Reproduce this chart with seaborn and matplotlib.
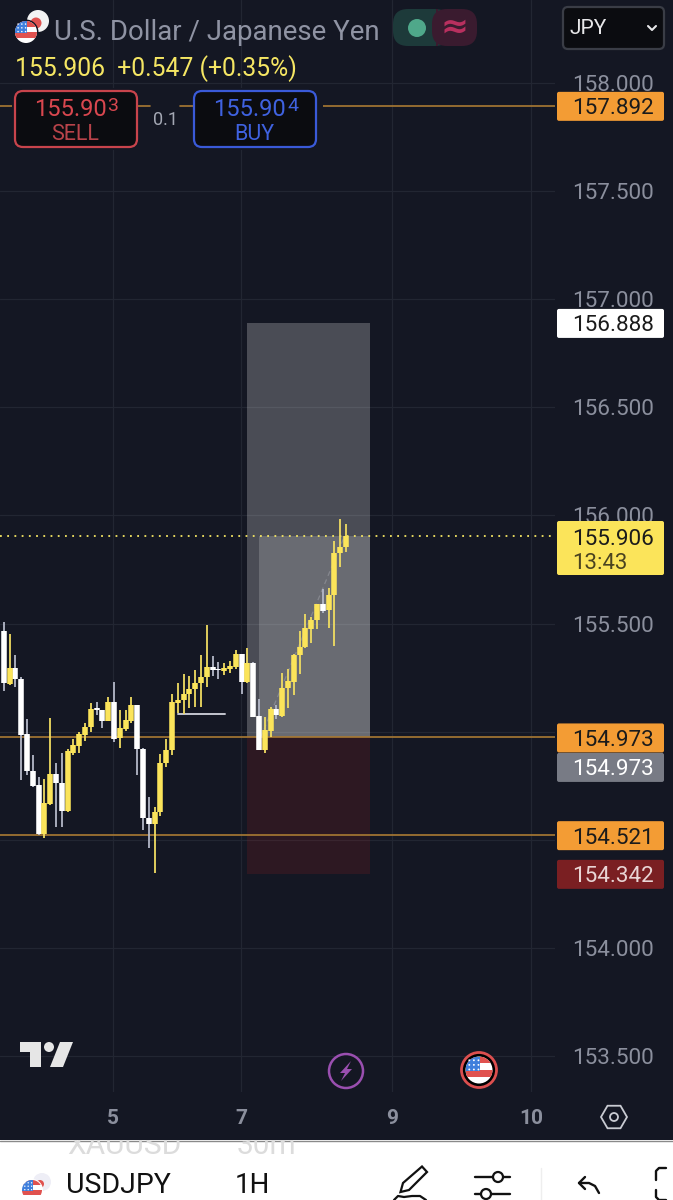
import matplotlib
matplotlib.use("Agg")
import matplotlib.pyplot as plt
import numpy as np
import pandas as pd
import seaborn as sns
from matplotlib.patches import Circle, FancyBboxPatch, Polygon, Rectangle, RegularPolygon

# hourly candles
opens = [155.466, 155.219, 155.296, 155.244, 154.988, 154.820, 154.752, 154.525, 154.665, 154.804,
         154.761, 154.632, 154.903, 154.935, 154.985, 155.020, 155.108, 155.099, 155.049, 155.137,
         154.971, 155.014, 155.051, 155.123, 154.920, 154.601, 154.573, 154.627, 154.857, 154.915,
         155.134, 155.146, 155.172, 155.197, 155.223, 155.253, 155.300, 155.290, 155.279, 155.288,
         155.300, 155.357, 155.229, 155.316, 155.072, 154.915, 155.004, 155.105, 155.072, 155.203,
         155.229, 155.354, 155.390, 155.476, 155.516, 155.589, 155.561, 155.630, 155.828, 155.855]
highs = [155.509, 155.452, 155.355, 155.251, 155.057, 154.892, 154.792, 154.780, 155.062, 154.854,
         154.900, 154.918, 154.965, 154.997, 155.039, 155.134, 155.139, 155.100, 155.162, 155.228,
         155.100, 155.100, 155.159, 155.125, 154.922, 154.696, 154.650, 154.895, 154.965, 155.174,
         155.223, 155.265, 155.259, 155.283, 155.354, 155.493, 155.350, 155.322, 155.319, 155.328,
         155.376, 155.359, 155.385, 155.323, 155.149, 155.069, 155.115, 155.122, 155.270, 155.291,
         155.360, 155.465, 155.544, 155.532, 155.592, 155.661, 155.666, 155.882, 155.985, 155.959]
lows = [155.190, 155.214, 155.208, 154.776, 154.800, 154.746, 154.521, 154.510, 154.661, 154.561,
        154.558, 154.630, 154.892, 154.900, 154.957, 155.000, 155.077, 155.015, 155.049, 154.954,
        154.923, 155.005, 155.042, 154.800, 154.545, 154.462, 154.345, 154.610, 154.838, 154.892,
        155.085, 155.081, 155.108, 155.115, 155.115, 155.208, 155.257, 155.242, 155.263, 155.273,
        155.291, 155.174, 155.226, 155.066, 154.913, 154.903, 154.974, 155.060, 155.069, 155.108,
        155.169, 155.265, 155.387, 155.408, 155.473, 155.547, 155.478, 155.396, 155.760, 155.832]
closes = [155.224, 155.296, 155.242, 154.986, 154.818, 154.749, 154.527, 154.669, 154.804, 154.761,
          154.632, 154.908, 154.938, 154.989, 155.020, 155.105, 155.102, 155.049, 155.137, 154.968,
          155.017, 155.054, 155.123, 154.920, 154.601, 154.573, 154.628, 154.857, 154.915, 155.137,
          155.146, 155.172, 155.197, 155.223, 155.253, 155.300, 155.285, 155.285, 155.294, 155.305,
          155.357, 155.231, 155.316, 155.069, 154.915, 155.007, 155.105, 155.075, 155.203, 155.233,
          155.356, 155.391, 155.478, 155.516, 155.590, 155.559, 155.632, 155.828, 155.855, 155.905]

price_ticks = [158.0, 157.5, 157.0, 156.5, 156.0, 155.5, 155.0, 154.5, 154.0, 153.5]
price_labels = ["158.000", "157.500", "157.000", "156.500", "156.000", "155.500", "", "", "154.000", "153.500"]
grid_prices = [158.0, 157.5, 157.0, 156.5, 156.0, 155.5, 155.0, 154.5, 154.0, 153.5]
day_ticks = [18.85, 40.9, 66.95, 90.9]
day_labels = ["5", "7", "9", "10"]

last_price = 155.906
alert_levels = [157.892, 154.973, 154.521]
target_price = 156.888
entry_price = 154.973
stop_price = 154.342
tool_start, tool_now, tool_end = 42, 44, 63.2
drawn_line = [30, 38.2, 155.081]

BG = "#141723"
UP = "#fbe45a"
DOWN = "#ffffff"
UP_WICK = "#f0dc62"
DOWN_WICK = "#b4b8c8"
ORANGE = "#f39c34"
TICK = "#8b8f9d"
GRID = "#222632"
FONT = ["Roboto", "DejaVu Sans"]

sns.set_theme(style="dark", rc={"axes.facecolor": BG, "figure.facecolor": BG})
plt.rcParams["font.family"] = FONT

# long tables for the candle wicks and bodies
rows_w = []
rows_b = []
for i in range(len(opens)):
    kind = "up" if closes[i] >= opens[i] else "down"
    rows_w += [(i, highs[i], kind), (i, lows[i], kind)]
    rows_b += [(i, opens[i], kind), (i, closes[i], kind)]
wicks = pd.DataFrame(rows_w, columns=["i", "price", "kind"])
bodies = pd.DataFrame(rows_b, columns=["i", "price", "kind"])

fig = plt.figure(figsize=(6.73, 12), dpi=100)
ax = fig.add_axes([0, (1200 - 1092) / 1200, 555 / 673, 1092 / 1200])
ax.set_xlim(-0.638, (555 - 3.7) / 5.8)
ax.set_ylim(158 - (1092 - 83) / 216.2, 158 + 83 / 216.2)

for p in grid_prices:
    ax.axhline(p, color=GRID, lw=0.9, zorder=0)
for d in day_ticks:
    ax.axvline(d, color=GRID, lw=0.9, zorder=0)

# position tool
ax.add_patch(Rectangle((tool_start, entry_price), tool_end - tool_start, target_price - entry_price,
                       facecolor="white", alpha=0.23, lw=0, zorder=1))
ax.add_patch(Rectangle((tool_now, entry_price), tool_end - tool_now, last_price - entry_price,
                       facecolor="white", alpha=0.177, lw=0, zorder=1))
ax.add_patch(Rectangle((tool_start, stop_price), tool_end - tool_start, entry_price - stop_price,
                       facecolor="#b22222", alpha=0.16, lw=0, zorder=1))
ax.plot([44.3, 58.8], [entry_price, last_price], color="#85878e", lw=0.9, ls=(0, (4, 3)), zorder=1.5)

for lvl in alert_levels:
    ax.axhline(lvl, color="#a97a33", lw=1.2, zorder=1.8)
ax.axhline(last_price, color="#f5e663", lw=1.3, ls=(0, (1, 3)), zorder=1.8)
ax.plot(drawn_line[:2], [drawn_line[2]] * 2, color="#c4c6cf", lw=1.4, zorder=1.9)

sns.lineplot(data=wicks, x="i", y="price", hue="kind", units="i", estimator=None,
             palette={"up": UP_WICK, "down": DOWN_WICK}, lw=1.3, legend=False, ax=ax,
             solid_capstyle="butt", zorder=2)
sns.lineplot(data=bodies, x="i", y="price", hue="kind", units="i", estimator=None,
             palette={"up": UP, "down": DOWN}, lw=4.0, legend=False, ax=ax,
             solid_capstyle="butt", zorder=3)

ax.set_xlabel("")
ax.set_ylabel("")
ax.yaxis.tick_right()
ax.set_yticks(price_ticks)
ax.set_yticklabels(price_labels, fontsize=16.2, color=TICK)
ax.set_xticks(day_ticks)
ax.set_xticklabels(day_labels, fontsize=15, color=TICK, fontweight="bold")
ax.tick_params(axis="y", length=0, pad=12)
ax.tick_params(axis="x", length=0, pad=12)
for s in ax.spines.values():
    s.set_visible(False)
ax.grid(False)

# overlay in picture pixels for the app chrome
ui = fig.add_axes([0, 0, 1, 1], facecolor="none")
ui.set_xlim(0, 673)
ui.set_ylim(1200, 0)
ui.axis("off")


def py(price):
    return 1200 - ax.transData.transform((0, price))[1]


def box(x0, y0, x1, y1, face, edge="none", lw=0, r=3, axes=ui, z=5):
    p = FancyBboxPatch((x0 + r, y0 + r), x1 - x0 - 2 * r, y1 - y0 - 2 * r,
                       boxstyle="round,pad=%d,rounding_size=%d" % (r, r),
                       facecolor=face, edgecolor=edge, lw=lw, zorder=z)
    axes.add_patch(p)


def badge(y, text, face, color):
    box(557, y - 14.5, 664, y + 14.5, face, r=2)
    ui.text(654, y, text, color=color, fontsize=16.2, ha="right", va="center_baseline", zorder=6)


def us_flag(a, x, y, r, z=7):
    disc = Circle((x, y), r, facecolor="white", lw=0, zorder=z)
    a.add_patch(disc)
    for k in range(4):
        if k % 2 == 0:
            s = Rectangle((x - r, y - r + k * r / 2), 2 * r, r / 2, facecolor="#e0524f", lw=0, zorder=z + 0.1)
            a.add_patch(s)
            s.set_clip_path(disc)
    c = Rectangle((x - r, y - r), r * 1.05, r * 1.05, facecolor="#3f7fdc", lw=0, zorder=z + 0.2)
    a.add_patch(c)
    c.set_clip_path(disc)
    for m in range(3):
        for n in range(3):
            a.add_patch(Circle((x - r * 0.72 + m * r * 0.34, y - r * 0.72 + n * r * 0.34), r * 0.07,
                               facecolor="white", lw=0, zorder=z + 0.3))


# header
ui.add_patch(Circle((38, 21), 11, facecolor="#f3f3f3", lw=0, zorder=5))
ui.add_patch(Circle((36, 23), 5.5, facecolor="#e0524f", lw=0, zorder=5.1))
ui.add_patch(Circle((26, 32), 12.5, facecolor=BG, lw=0, zorder=5.5))
us_flag(ui, 26, 32, 11)
ui.text(54, 29, "U.S. Dollar / Japanese Yen", color="#8f93a3", fontsize=19.9, va="center_baseline", zorder=6)
ui.text(15, 66, "155.906  +0.547 (+0.35%)", color="#f5e663", fontsize=17.8, va="center_baseline", zorder=6)

box(393, 9, 450, 46, "#1d3a3a", r=15)
box(432, 9, 477, 46, "#3a1b2f", r=15)
ui.add_patch(Rectangle((436, 9), 2, 37, facecolor="#3a1b2f", lw=0, zorder=5.1))
ui.add_patch(Circle((417, 28), 9, facecolor="#4fa88a", lw=0, zorder=6))
ui.text(455, 27, "≈", color="#b8305f", fontsize=24, fontweight="bold", ha="center", va="center",
        family=["DejaVu Sans"], zorder=6)

box(563, 7, 664, 49, "#0b0c10", edge="#3a3d46", lw=1.6, r=5)
ui.text(569, 27, "JPY", color="#e8e8ea", fontsize=15, va="center_baseline", zorder=6)
ui.plot([648, 652, 656], [26, 30, 26], color="#e8e8ea", lw=1.5, zorder=6)

# sell / buy
ui.add_patch(Rectangle((12, 88), 311, 62, facecolor=BG, lw=0, zorder=4))
ui.plot([138, 150], [py(alert_levels[0])] * 2, color="#a97a33", lw=1.2, zorder=4.5)
ui.plot([180, 193], [py(alert_levels[0])] * 2, color="#a97a33", lw=1.2, zorder=4.5)
box(15, 91, 137, 147, "#0b0c10", edge="#c8444c", lw=1.6, r=8)
box(194, 91, 316, 147, "#0b0c10", edge="#3a5ad8", lw=1.6, r=8)
ui.text(34, 107, "155.90", color="#d9474f", fontsize=17, va="center_baseline", zorder=6)
ui.text(107, 104, "3", color="#d9474f", fontsize=14, va="center_baseline", zorder=6)
ui.text(75, 132, "SELL", color="#b8434a", fontsize=15.5, ha="center", va="center_baseline", zorder=6)
ui.text(213, 107, "155.90", color="#3f62e0", fontsize=17, va="center_baseline", zorder=6)
ui.text(287, 104, "4", color="#3f62e0", fontsize=14, va="center_baseline", zorder=6)
ui.text(254, 132, "BUY", color="#3f62e0", fontsize=15.5, ha="center", va="center_baseline", zorder=6)
ui.text(165, 118, "0.1", color="#a4a8b4", fontsize=13, ha="center", va="center_baseline", zorder=6)

# right hand badges
badge(py(alert_levels[0]), "157.892", ORANGE, "#1b1b1b")
badge(py(target_price), "156.888", "#ffffff", "#1b1b1b")
badge(py(alert_levels[1]) + 0.5, "154.973", ORANGE, "#1b1b1b")
badge(py(entry_price) + 30, "154.973", "#787b85", "#ffffff")
badge(py(alert_levels[2]) + 0.5, "154.521", ORANGE, "#1b1b1b")
badge(py(stop_price) + 0.5, "154.342", "#7a1f22", "#e9d5d5")
box(557, 521, 664, 575, "#fbe45a", r=2)
ui.text(654, 537, "155.906", color="#1b1b1b", fontsize=16.2, ha="right", va="center_baseline", zorder=6)
ui.text(572, 561, "13:43", color="#4a4320", fontsize=16, va="center_baseline", zorder=6)

# logo and event markers
ui.add_patch(Polygon([(20, 1042), (41, 1042), (41, 1067), (30, 1067), (30, 1052), (20, 1052)],
                     facecolor="#e6e6e6", lw=0, zorder=6))
ui.add_patch(Circle((49, 1047), 5, facecolor="#e6e6e6", lw=0, zorder=6))
ui.add_patch(Polygon([(60, 1042), (73, 1042), (63, 1067), (50, 1067)], facecolor="#e6e6e6", lw=0, zorder=6))

ui.add_patch(Circle((346, 1071), 17, facecolor=BG, edgecolor="#9a4fb0", lw=1.8, zorder=6))
ui.add_patch(Polygon([(351, 1061), (340, 1073), (345, 1073), (341, 1081), (352, 1069), (347, 1069)],
                     facecolor="#9a4fb0", lw=0, zorder=6.5))
ui.add_patch(Circle((479, 1070), 17.5, facecolor="black", edgecolor="#dc4f4f", lw=2, zorder=6))
us_flag(ui, 479, 1070, 13.5)

ui.add_patch(RegularPolygon((614, 1117), 6, radius=13, orientation=np.pi / 2, facecolor="none",
                            edgecolor="#c9cbd2", lw=1.3, zorder=6))
ui.add_patch(Circle((614, 1117), 4, facecolor="none", edgecolor="#c9cbd2", lw=1.3, zorder=6))

# white toolbar at the bottom, clipped by its own axes
bar = fig.add_axes([0, 0, 1, 60 / 1200], facecolor="white")
bar.set_xlim(0, 673)
bar.set_ylim(1200, 1140)
bar.axis("off")
bar.add_patch(Rectangle((0, 1140), 673, 60, facecolor="white", lw=0, zorder=0))
bar.plot([0, 673], [1140.5, 1140.5], color="#8a8a8a", lw=1, zorder=1)
bar.text(67, 1143, "XAUUSD", color="#dcdcdc", fontsize=21.5, va="center_baseline", clip_on=True)
bar.text(237, 1143, "30m", color="#dcdcdc", fontsize=21.5, va="center_baseline", clip_on=True)
bar.text(66, 1193, "USDJPY", color="#111111", fontsize=20.5, va="baseline", clip_on=True)
bar.text(235, 1193, "1H", color="#111111", fontsize=20, va="baseline", clip_on=True)

bar.add_patch(Circle((42, 1182), 9, facecolor="#eeeef6", lw=0, zorder=2))
bar.add_patch(Circle((40, 1184), 4, facecolor="#e0524f", lw=0, zorder=2.1))
bar.add_patch(Circle((32, 1190), 11, facecolor="white", lw=0, zorder=2.5))
us_flag(bar, 32, 1190, 10, z=3)

bar.add_patch(Polygon([(400.5, 1192), (403, 1183), (422, 1166.5), (427, 1172), (409, 1190)],
                      facecolor="white", edgecolor="#111111", lw=1.6, zorder=3))
bar.plot([394, 398, 404, 412, 420, 426], [1200, 1196, 1197, 1196, 1196, 1200], color="#111111", lw=1.6, zorder=3)
bar.plot([475, 510], [1177, 1177], color="#111111", lw=1.7, zorder=3)
bar.add_patch(Circle((498, 1177), 5, facecolor="white", edgecolor="#111111", lw=1.6, zorder=4))
bar.plot([475, 510], [1194, 1194], color="#111111", lw=1.7, zorder=3)
bar.add_patch(Circle((486, 1194), 5, facecolor="white", edgecolor="#111111", lw=1.6, zorder=4))
bar.plot([541, 541], [1168, 1200], color="#eeeeee", lw=1, zorder=3)
bar.plot([585, 579, 585], [1177, 1183, 1189], color="#111111", lw=1.7, zorder=3)
bar.plot([579, 589, 595, 599], [1183, 1183, 1186, 1193], color="#111111", lw=1.7, zorder=3)
bar.plot([666, 659, 656, 656], [1168, 1168, 1171, 1180], color="#111111", lw=1.7, zorder=3)
bar.plot([656, 656, 659, 666], [1190, 1197, 1200, 1200], color="#111111", lw=1.7, zorder=3)

fig.savefig("out.png", dpi=100, facecolor=BG)
